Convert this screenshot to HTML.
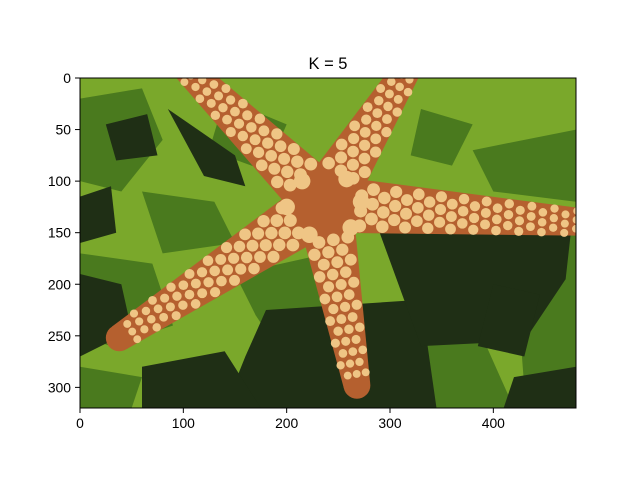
<!DOCTYPE html>
<html><head><meta charset="utf-8"><style>
body{margin:0;background:#fff;}
svg{display:block;font-family:"Liberation Sans",sans-serif;}
</style></head><body>
<svg id="fig" width="640" height="480" viewBox="0 0 640 480" xmlns="http://www.w3.org/2000/svg">
<rect width="640" height="480" fill="#fff"/>
<defs><clipPath id="clip"><rect x="0" y="0" width="480" height="320"/></clipPath></defs>
<text x="328" y="69" font-size="16.5" text-anchor="middle" fill="#000">K = 5</text>
<g id="img" transform="translate(80,78) scale(1.0333,1.03125)" clip-path="url(#clip)"></g>
<rect x="80" y="78" width="496" height="330" fill="none" stroke="#000" stroke-width="1"/>
<g id="ticks"></g>
</svg>
<script>
const xTicks=[0,100,200,300,400];
const yTicks=[0,50,100,150,200,250,300];
const imgW=480, imgH=320;
const colors=["#7aa82b","#4a7a1e","#1f2f15","#b5602f","#efc585"];
const armTips=[[100,-12],[320,-14],[490,140],[268,298],[38,252]];
const center=[236,122];
const NS="http://www.w3.org/2000/svg";
const px=x=>80+x*496/imgW, py=y=>78+y*330/imgH;
const g=document.getElementById('img');
function add(tag,attrs,name){const e=document.createElementNS(NS,tag);for(const k in attrs)e.setAttribute(k,attrs[k]);


g.appendChild(e);return e;}
add('rect',{x:0,y:0,width:480,height:320,fill:colors[0]},'background-light-green');
const mids=["M0,20 L60,10 L80,60 L40,110 L0,100Z","M140,20 L200,45 L180,90 L125,70Z","M0,170 L70,180 L90,240 L30,260 L0,250Z",
"M380,70 L480,50 L480,120 L400,110Z","M420,170 L480,150 L480,310 L430,300Z","M150,190 L240,170 L260,240 L190,260 L170,230Z",
"M290,240 L380,230 L420,320 L290,320Z","M60,110 L130,120 L150,160 L80,170Z","M330,30 L380,45 L360,85 L320,75Z","M0,280 L60,290 L50,320 L0,320Z"];
mids.forEach(d=>add('path',{d,fill:colors[1]},'mid-green-patch'));
const darks=["M0,190 L40,200 L50,245 L0,270Z","M180,225 L330,215 L345,320 L140,320 L160,270Z","M290,150 L475,150 L470,195 L430,255 L330,260Z",
"M25,45 L65,35 L75,75 L35,80Z","M85,30 L150,75 L160,105 L120,95Z","M60,280 L140,265 L175,320 L60,320Z","M400,200 L445,210 L430,270 L385,260Z",
"M0,115 L30,105 L35,150 L0,160Z","M420,290 L480,280 L480,320 L410,320Z"];
darks.forEach(d=>add('path',{d,fill:colors[2]},'dark-green-patch'));
armTips.forEach(t=>{
  const dx=t[0]-center[0],dy=t[1]-center[1],L=Math.hypot(dx,dy),nx=-dy/L,ny=dx/L,w0=28,w1=13;
  const d=`M${center[0]+nx*w0},${center[1]+ny*w0} L${t[0]+nx*w1},${t[1]+ny*w1} L${t[0]-nx*w1},${t[1]-ny*w1} L${center[0]-nx*w0},${center[1]-ny*w0}Z`;
  add('path',{d,fill:colors[3]},'starfish-arm');
  add('circle',{cx:t[0],cy:t[1],r:w1,fill:colors[3]},'starfish-arm-tip');
});
add('circle',{cx:center[0],cy:center[1],r:40,fill:colors[3]},'starfish-center');
armTips.forEach((t,ai)=>{
  const dx=t[0]-center[0],dy=t[1]-center[1],L=Math.hypot(dx,dy),ux=dx/L,uy=dy/L,nx=-uy,ny=ux;
  for(let s=36;s<L-6;s+=11){
    const w=26-12*s/L;
    for(let o=-1;o<=1;o++){
      const sh=((s/11|0)+ai)%2?0.3:-0.2;
      add('circle',{cx:center[0]+ux*s+nx*(o+sh)*w*0.6,cy:center[1]+uy*s+ny*(o+sh)*w*0.6,r:w*0.26,fill:colors[4]},'starfish-spot');
    }
  }
});
[[215,100],[258,98],[222,152],[262,145],[200,125],[272,120]].forEach(c=>add('circle',{cx:c[0],cy:c[1],r:8,fill:colors[4]},'starfish-center-spot'));
const t=document.getElementById('ticks');
function addT(tag,attrs,name,text){const e=document.createElementNS(NS,tag);for(const k in attrs)e.setAttribute(k,attrs[k]);


if(text!==undefined)e.textContent=text;t.appendChild(e);}
xTicks.forEach(v=>{const x=px(v);addT('line',{x1:x,x2:x,y1:408,y2:413,stroke:'#000'},'x-tick');
addT('text',{x:x,y:428,'font-size':13.9,'text-anchor':'middle'},'x-tick-label',v);});
yTicks.forEach(v=>{const y=py(v);addT('line',{x1:75,x2:80,y1:y,y2:y,stroke:'#000'},'y-tick');
addT('text',{x:71,y:y+5,'font-size':13.9,'text-anchor':'end'},'y-tick-label',v);});
</script>
</body></html>
